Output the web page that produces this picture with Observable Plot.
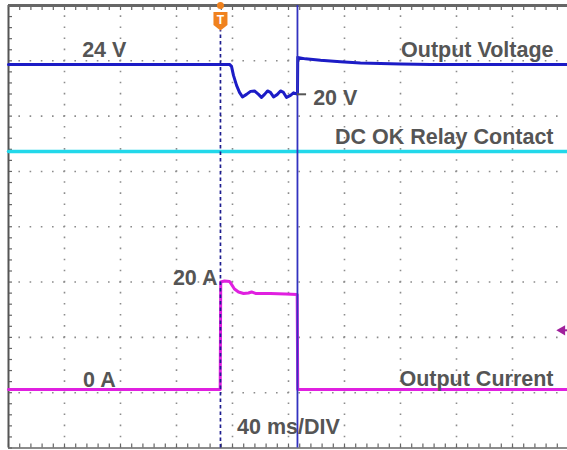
<!DOCTYPE html>
<html><head><meta charset="utf-8">
<script src="https://cdn.jsdelivr.net/npm/d3@7"></script>
<script src="https://cdn.jsdelivr.net/npm/@observablehq/plot@0.6"></script>
<style>html,body{margin:0;padding:0;background:#fff}#chart svg{display:block}</style>
</head><body><div id="chart"></div>
<script>
// ---- data (time in ms from left edge of screen, 40 ms/div) ----
const voltageTime  = [0, 65.7, 157.9, 159.3, 160.7, 162.9, 165.0, 167.1, 170.0, 172.9, 175.7, 178.6, 180.7, 182.9, 185.0, 187.1, 189.3, 192.1, 194.3, 196.4, 198.6, 201.4, 203.6, 205.7, 206.4, 206.6, 212.1, 222.9, 237.1, 251.4, 265.7, 280.0, 301.4, 400];
const voltageValue = [24, 24, 24, 23.73, 22.53, 21.19, 20.25, 19.65, 19.99, 20.39, 20.45, 19.99, 19.58, 19.99, 20.45, 20.25, 19.65, 19.99, 20.45, 20.25, 19.58, 19.85, 20.19, 20.05, 20.05, 24.94, 24.74, 24.54, 24.36, 24.20, 24.11, 24.04, 24.0, 24];

const currentTime  = [0, 151.2, 151.6, 154.3, 157.9, 159.3, 161.4, 164.3, 167.9, 171.4, 173.6, 176.4, 187.1, 197.9, 206.2, 206.6, 400];
const currentValue = [0, 0, 19.44, 19.62, 19.53, 18.99, 18.17, 17.63, 17.36, 17.45, 17.63, 17.36, 17.36, 17.27, 17.18, 0, 0];

const relayTime  = [0, 400];
const relayValue = [1, 1];           // contact closed throughout

const triggerTime = 151.4;           // ms
const cursorTime  = 206.4;           // ms
const triggerLevelAmps = 10.7;       // A

// channel settings (screen divisions)
const chV = {perDiv: 7.4, zeroDiv: 3.692};
const chI = {perDiv: 10,  zeroDiv: 1.058};
const chR = {perDiv: 1,   zeroDiv: 4.362};

const toDiv = ch => v => ch.zeroDiv + v / ch.perDiv;

const voltage = voltageTime.map((t, i) => ({t, d: toDiv(chV)(voltageValue[i])}));
const current = currentTime.map((t, i) => ({t, d: toDiv(chI)(currentValue[i])}));
const relay   = relayTime.map((t, i) => ({t, d: toDiv(chR)(relayValue[i])}));

// annotations
const labelsStart = [
  {text: "24 V", t: 52.6, d: toDiv(chV)(24) + 0.26},
  {text: "20 V", t: 217.6, d: toDiv(chV)(20) - 0.07},
  {text: "0 A", t: 53.3, d: toDiv(chI)(0) + 0.17},
  {text: "40 ms/DIV", t: 163.3, d: 0.37}
];
const labelsEnd = [
  {text: "Output Voltage", t: 389.3, d: toDiv(chV)(24) + 0.26},
  {text: "DC OK Relay Contact", t: 389.3, d: toDiv(chR)(1) + 0.255},
  {text: "20 A", t: 149.3, d: toDiv(chI)(20) + 0.02},
  {text: "Output Current", t: 389.3, d: toDiv(chI)(0) + 0.18}
];

const pxY = 55.3, pxX = 56 / 40;   // pixels per div (y), pixels per ms (x)

const shield = {draw(ctx) {
  ctx.moveTo(-7, -9); ctx.lineTo(7, -9); ctx.lineTo(7, 4); ctx.lineTo(0, 9.5); ctx.lineTo(-7, 4); ctx.closePath();
}};

const font = "Liberation Sans, Arial, Helvetica, sans-serif";
const gridColor = "#8c8c8c";
const textStyle = {x: "t", y: "d", text: "text", fill: "#555555", fontWeight: "bold", fontSize: 21.5, fontFamily: font};

const chart = Plot.plot({
  width: 567, height: 450, margin: 0,
  x: {domain: [0, 400], range: [8, 568], axis: null},
  y: {domain: [0, 8], range: [447.5, 5], axis: null},
  style: {background: "#fff", fontFamily: font},
  marks: [
    // dotted grid
    Plot.ruleX(d3.range(40, 400, 40), {y1: 0, y2: 8, stroke: gridColor, strokeWidth: 1.6, strokeDasharray: "1.6,9.46", strokeDashoffset: 0.8}),
    Plot.ruleY(d3.range(1, 8), {x1: 0, x2: 400, stroke: gridColor, strokeWidth: 1.6, strokeDasharray: "1.6,9.6", strokeDashoffset: 0.8}),
    // border ticks
    Plot.ruleX(d3.range(0, 400, 8), {y1: 8, y2: 8 - 5 / pxY, stroke: "#666", strokeWidth: 1.2}),
    Plot.ruleX(d3.range(0, 400, 8), {y1: 0, y2: 4 / pxY, stroke: "#666", strokeWidth: 1.2}),
    Plot.ruleY(d3.range(0, 8, 0.2), {x1: 0, x2: 4 / pxX, stroke: "#666", strokeWidth: 1.2}),
    // borders
    Plot.ruleX([0], {y1: 0, y2: 8, stroke: "#555", strokeWidth: 2}),
    Plot.ruleY([8], {x1: 0, x2: 400, stroke: "#666", strokeWidth: 3}),
    Plot.ruleY([0], {x1: 0, x2: 400, stroke: "#666", strokeWidth: 1.5}),
    // traces
    Plot.line(relay, {x: "t", y: "d", stroke: "#22d8ea", strokeWidth: 3.5, clip: true}),
    Plot.line(voltage, {x: "t", y: "d", stroke: "#1c1cc6", strokeWidth: 3, clip: true}),
    Plot.line(current, {x: "t", y: "d", stroke: "#e020e0", strokeWidth: 3, clip: true}),
    // trigger line & cursor
    Plot.ruleX([triggerTime], {y1: 0, y2: 8 - 25 / pxY, stroke: "#1e1e90", strokeWidth: 1.7, strokeDasharray: "3.5,3"}),
    Plot.ruleX([cursorTime], {y1: 0, y2: 8, stroke: "#3232c0", strokeWidth: 1.8}),
    // trigger marker
    Plot.dot([triggerTime], {x: d => d, y: 8, r: 3.5, fill: "#f0821e", stroke: "none"}),
    Plot.dot([triggerTime], {x: d => d, y: 8 - 15.5 / pxY, symbol: shield, fill: "#f0821e", stroke: "none"}),
    Plot.text([triggerTime], {x: d => d, y: 8 - 14.5 / pxY, text: () => "T", fill: "#fff", fontWeight: "bold", fontSize: 12}),
    // trigger level marker (current channel)
    Plot.dot([triggerLevelAmps], {x: 395.5, y: d => toDiv(chI)(d), symbol: "triangle", rotate: -90, r: 3.8, fill: "#a0209c", stroke: "none"}),
    Plot.ruleY([triggerLevelAmps], {y: d => toDiv(chI)(d), x1: 396, x2: 400, stroke: "#a0209c", strokeWidth: 2}),
    // leader for 20 V
    Plot.ruleY([20], {y: d => toDiv(chV)(d), x1: cursorTime, x2: cursorTime + 6.5, stroke: "#555", strokeWidth: 2}),
    // labels
    Plot.text(labelsStart, {...textStyle, textAnchor: "start"}),
    Plot.text(labelsEnd, {...textStyle, textAnchor: "end"})
  ]
});
document.getElementById("chart").appendChild(chart);
</script>
</body></html>
